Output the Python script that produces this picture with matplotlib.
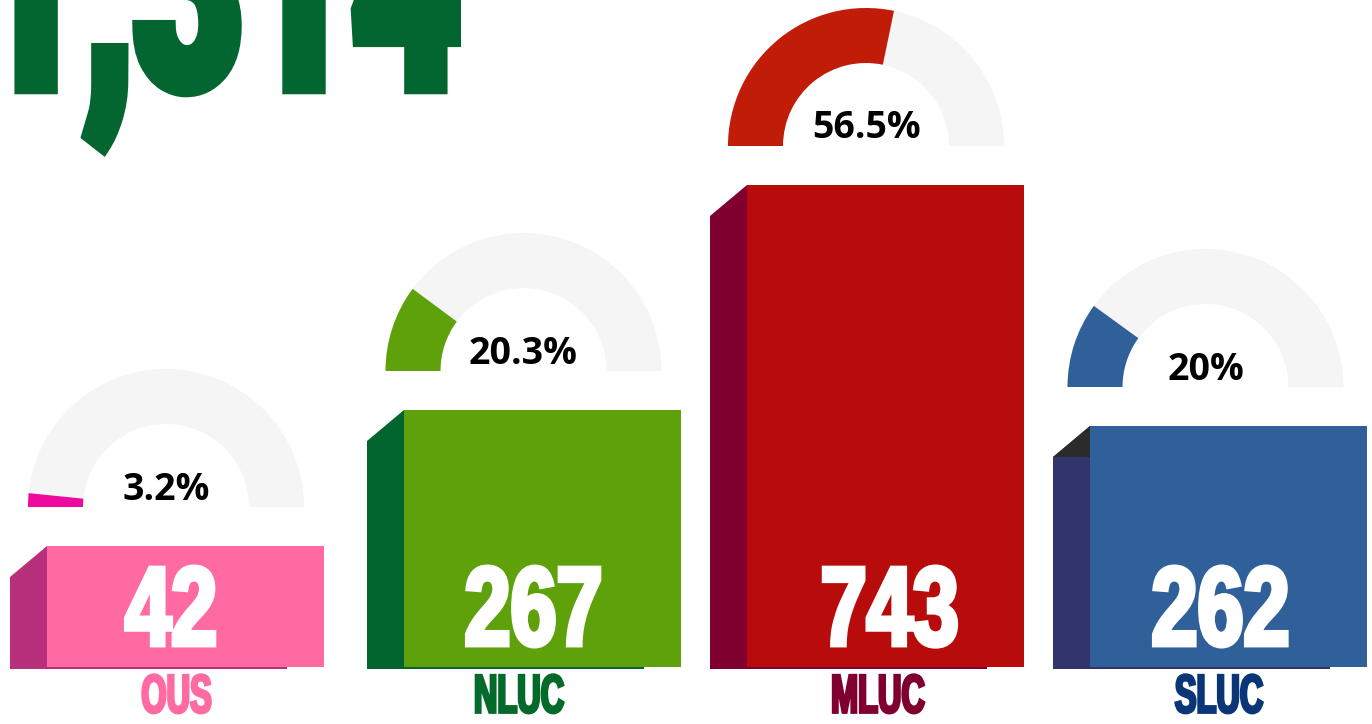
import matplotlib
matplotlib.use('Agg')
import matplotlib.pyplot as plt
from matplotlib.patches import Rectangle, Polygon, Wedge
from matplotlib.patheffects import AbstractPathEffect
from matplotlib.transforms import Affine2D

# data
categories = ['OUS', 'NLUC', 'MLUC', 'SLUC']
counts = [42, 267, 743, 262]
shares = [3.2, 20.3, 56.5, 20.0]
share_labels = ['3.2%', '20.3%', '56.5%', '20%']
total_label = '1,314'
bar_height = [121, 257, 482, 241]  # drawn height of each block (px units)

# styling
front_col = ['#ff6aa3', '#5ea10a', '#b80c0c', '#2f6099']
side_col = ['#b8307c', '#03652e', '#7f002e', '#31356c']
gauge_col = ['#ef0a9e', '#5ea10a', '#c11c07', '#2f6099']
label_col = ['#ff6aa3', '#046a2a', '#7f002e', '#0a3677']
corner_col = [None, None, None, '#2b2b2b']
track_col = '#f5f5f5'
total_col = '#036630'

# layout (pixel-like units, y measured upward)
W, H = 1372, 724
base_y = 57
bar_left = [10, 367, 710, 1053]
side_w, side_rise = 37, 31
front_w = 277
gauge_x = [166, 523.5, 866, 1205.5]
gauge_gap = 39
r_out, r_in = 138, 83
value_x = [171.5, 533.5, 889.5, 1220.5]
label_x = [176.5, 518.5, 877.5, 1219]


class Squeeze(AbstractPathEffect):
    """ narrow a text horizontally (condensed look) and optionally thicken it """

    def __init__(self, sx, lw=0.0):
        super().__init__()
        self.sx = sx
        self.lw = lw

    def draw_path(self, renderer, gc, tpath, affine, rgbFace=None):
        ext = tpath.get_extents()
        cx = (ext.x0 + ext.x1) / 2
        tr = Affine2D().translate(-cx, 0).scale(self.sx, 1).translate(cx, 0) + affine
        gc0 = renderer.new_gc()
        gc0.copy_properties(gc)
        if self.lw:
            gc0.set_linewidth(self.lw)
            gc0.set_foreground(rgbFace)
            gc0.set_joinstyle('miter')
        renderer.draw_path(gc0, tpath, tr, rgbFace)
        gc0.restore()


fig = plt.figure(figsize=(13.72, 7.24), dpi=100)
ax = fig.add_axes([0, 0, 1, 1])
ax.set_xlim(0, W)
ax.set_ylim(0, H)
ax.axis('off')

# big total, mostly cut off at the top
ax.text(-190, 636, total_label, ha='left', va='baseline', color=total_col,
        fontsize=225, fontweight=900, family='Roboto',
        path_effects=[Squeeze(0.60, lw=9)])

for i, cat in enumerate(categories):
    x0 = bar_left[i]
    top = base_y + bar_height[i]

    # side face with slanted top
    side = Polygon([(x0, base_y), (x0, top - side_rise), (x0 + side_w, top), (x0 + side_w, base_y)],
                   closed=True, facecolor=side_col[i], edgecolor='none')
    ax.add_patch(side)
    if corner_col[i]:
        ax.add_patch(Polygon([(x0, top - side_rise), (x0 + side_w, top), (x0 + side_w, top - side_rise)],
                             closed=True, facecolor=corner_col[i], edgecolor='none'))
    # thin shadow line under the block
    ax.add_patch(Rectangle((x0, base_y - 1.5), front_w, 1.5, facecolor=side_col[i], edgecolor='none'))
    # front face
    ax.add_patch(Rectangle((x0 + side_w, base_y), front_w, bar_height[i],
                           facecolor=front_col[i], edgecolor='none'))

    # gauge
    gy = top + gauge_gap
    gx = gauge_x[i]
    ax.add_patch(Wedge((gx, gy), r_out, 0, 180, width=r_out - r_in, facecolor=track_col, edgecolor='none'))
    ax.add_patch(Wedge((gx, gy), r_out, 180 - shares[i] / 100 * 180, 180, width=r_out - r_in,
                       facecolor=gauge_col[i], edgecolor='none'))
    ax.text(gx, gy + 7.5, share_labels[i], ha='center', va='baseline', fontsize=27,
            fontweight='bold', family='Open Sans', color='black')

    # count on the block
    ax.text(value_x[i], 79, str(counts[i]), ha='center', va='baseline', color='white',
            fontsize=80.5, fontweight='bold', family='Liberation Sans',
            path_effects=[Squeeze(0.74, lw=3.5)])

    # category label
    ax.text(label_x[i], 0.5, cat, ha='center', va='bottom', color=label_col[i],
            fontsize=39, fontweight='bold', family='Liberation Sans',
            path_effects=[Squeeze(0.60, lw=2)])

fig.savefig('out.png', dpi=100)
